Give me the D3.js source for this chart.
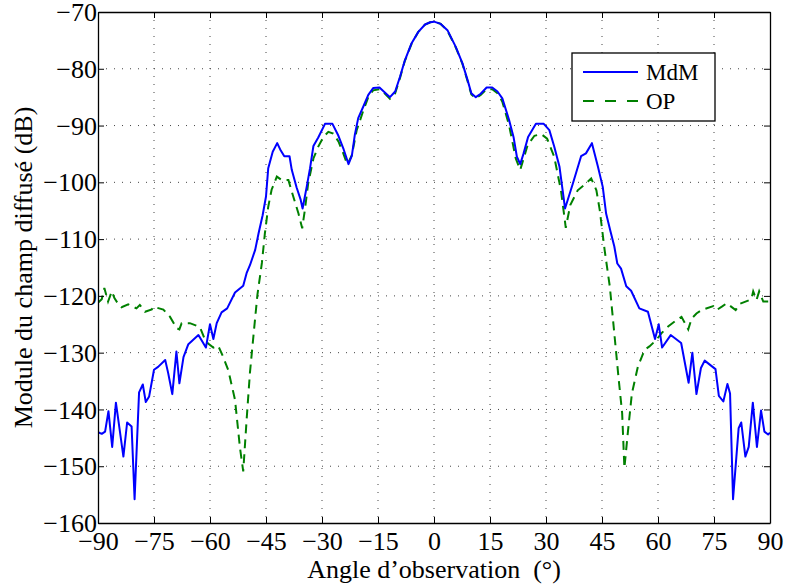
<!DOCTYPE html>
<html><head><meta charset="utf-8">
<script src="https://cdn.jsdelivr.net/npm/d3@7"></script>
<style>
body{margin:0;background:#fff;}
text{font-family:"Liberation Serif","Times New Roman",serif;fill:#000;}
</style></head>
<body><svg id="c" width="785" height="585"></svg>
<script>
const xTicks = [-90,-75,-60,-45,-30,-15,0,15,30,45,60,75,90];
const yTicks = [-70,-80,-90,-100,-110,-120,-130,-140,-150,-160];
const seriesNames = ["MdM","OP"];

const mdmAngle = [-90,-89,-88.1,-87.2,-86.2,-85.2,-83.2,-82.2,-81,-80.2,-79,-78,-77.2,-76.3,-75,-73.9,-72,-71.2,-70.1,-69,-68.2,-67.1,-65.8,-63.1,-61.1,-60,-59.1,-58.2,-56.9,-55.4,-53.3,-51.1,-50.2,-49.3,-47.9,-47,-45.9,-45,-44.4,-43.2,-42,-41.2,-40.1,-38.7,-38.1,-36.8,-35.7,-35.2,-34.1,-33.2,-32.3,-31,-29.2,-27.2,-25.6,-24.3,-22.9,-22,-21.2,-20.3,-18.9,-17.6,-16.3,-14.6,-13.6,-11.8,-10.4,-9.1,-7.8,-6,-4.2,-2.4,-1,0,1.8,3.6,5.8,7.6,9,10,11.2,12.5,14.1,15.6,17,18.3,20.1,21.3,22.2,23.1,24,25.2,27.3,29.4,30.9,32.2,33.6,35.1,37.2,39.4,40.7,42.3,43.9,45.2,46.1,47.3,48.3,49.1,50.1,51.5,52.8,55,57.3,59.2,60.2,61.1,63.4,66.2,68.2,69.2,70.3,71.5,72.5,75.4,76.3,77.5,78.6,79.3,80.1,81.6,82.3,83.4,84.3,85.4,86.5,87.6,88.5,89.5,90];
const mdmValue = [-144.0,-144.3,-143.9,-140.3,-146.6,-138.8,-148.3,-142.3,-143,-155.8,-137,-135.6,-138.7,-137.7,-133,-132.5,-131.3,-133.6,-137.3,-129.8,-135.4,-130.8,-128.5,-126.9,-129.1,-125,-127.6,-124.8,-122.9,-122.2,-119.4,-118.2,-116,-114.6,-111.9,-109,-105.8,-102.5,-97.5,-94.6,-93.1,-94.2,-95.4,-95.4,-97.8,-100.9,-103.1,-104.6,-100.8,-97.5,-93.6,-92.1,-89.7,-89.7,-91.8,-94,-96.8,-95.3,-91.6,-88.7,-86.6,-84.6,-83.4,-83.3,-83.9,-85,-84,-81.4,-78.5,-75.5,-73.5,-72.2,-71.8,-71.7,-72.1,-73.2,-76.1,-79,-82,-84.3,-85,-84.4,-83.3,-83.3,-84,-85.2,-89,-92,-95.5,-96.8,-94.9,-92,-89.7,-89.7,-90.8,-93.7,-97.2,-104.6,-100.2,-95.4,-94.9,-93.1,-97.2,-100.8,-105.5,-108.7,-111.3,-114.3,-115.2,-118.3,-119.1,-122.2,-122.8,-127.6,-125,-129.1,-126.9,-128.3,-135.3,-130,-137.3,-132.7,-131.4,-132.9,-137.6,-138.6,-135.5,-137.2,-155.8,-143.3,-142.3,-148.3,-146.6,-138.8,-146.6,-140.2,-143.9,-144.4,-144.1];

const opAngle = [-90,-89,-88.3,-87.3,-86.3,-85.6,-84.5,-83.7,-81.9,-79.7,-78.8,-77.4,-75.6,-75.2,-72.5,-70.7,-68.9,-68.2,-67.6,-65.4,-62.7,-61.3,-60.5,-59.1,-57.8,-56.5,-55.1,-53.3,-52,-51.1,-50.2,-49.3,-48.3,-47.3,-46.1,-45.3,-44.4,-43.5,-42.1,-40.8,-39,-37.7,-36.3,-35.3,-34.6,-33.7,-32.3,-31,-29.6,-28.3,-27,-25.6,-24.3,-23.2,-22,-20.7,-18.9,-17.6,-16.3,-14.6,-13.6,-11.8,-10.4,-9.1,-7.8,-6,-4.2,-2.4,-1,0,1.8,3.6,5.8,7.6,9,10,11.2,12.5,14.1,15.6,17,18.3,20.1,21.9,23.1,25.1,26.9,28.7,30.3,32.2,34,35.3,36.5,38.5,40.7,42.1,43.5,44.4,45.7,47.1,48.3,49.4,50.4,51,51.9,53,54.6,56.4,57.7,59.5,60.9,62.7,64.5,66.3,68.1,69,70.3,71.7,74.8,75.7,77.1,78.4,80.8,81.9,85,85.5,86.4,87.1,88.2,89.5,90];
const opValue = [-121.2,-120.6,-118.6,-121,-119.2,-120.4,-121.5,-122,-121.5,-122.2,-121.6,-122.8,-122.4,-121.9,-122.4,-123.7,-125.7,-125.9,-124.8,-124.8,-125.5,-127.8,-128.4,-129.1,-128.8,-130.7,-133.1,-138.3,-146.6,-150.9,-141.9,-133.5,-126.6,-119.8,-114.2,-109,-104.3,-101.3,-99,-99.6,-99.6,-102.5,-105.5,-108.1,-104.9,-100.2,-95.8,-93.7,-92,-91.1,-91.4,-92.8,-94.9,-96.9,-95.2,-90.8,-87.3,-85,-83.8,-83.6,-84.1,-85.3,-84.3,-81.6,-78.6,-75.6,-73.5,-72.2,-71.8,-71.7,-72.1,-73.3,-76.2,-79.1,-82.2,-84.5,-85.2,-84.6,-83.6,-83.6,-84.3,-85.8,-89.9,-95.8,-97.8,-93.4,-91.8,-91.5,-92.3,-95.5,-101.4,-108,-104,-101.4,-100.2,-99.3,-101.4,-104.9,-111.9,-118.4,-126.6,-134.2,-140.7,-150.3,-144.2,-137.2,-132.5,-129.5,-128.9,-127.8,-126.6,-125.4,-124.5,-123.7,-125.9,-124,-123.1,-122.5,-121.8,-122.5,-121.9,-121.3,-122.5,-121.4,-120.6,-119.2,-120.7,-119.2,-121,-121,-121];

const L = 98, R = 770, T = 12, B = 523;
const svg = d3.select("#c");
const x = d3.scaleLinear().domain([-90,90]).range([L,R]);
const y = d3.scaleLinear().domain([-160,-70]).range([B,T]);
const fmt = v => String(v).replace("-", "\u2212");

// grid
const g = svg.append("g");
g.selectAll(".gx").data(xTicks.slice(1,-1)).enter().append("line")
  .attr("x1", d=>x(d)).attr("x2", d=>x(d)).attr("y1", T).attr("y2", B)
  .attr("stroke", "#444").attr("stroke-width", 1).attr("stroke-dasharray", "1,7");
g.selectAll(".gy").data(yTicks.slice(1,-1)).enter().append("line")
  .attr("y1", d=>y(d)).attr("y2", d=>y(d)).attr("x1", L).attr("x2", R)
  .attr("stroke", "#444").attr("stroke-width", 1).attr("stroke-dasharray", "1,7");

// curves
const line = d3.line().x(d=>x(d[0])).y(d=>y(d[1]));
svg.append("clipPath").attr("id","cp").append("rect").attr("x",L).attr("y",T).attr("width",R-L).attr("height",B-T);
svg.append("path").datum(d3.zip(opAngle, opValue)).attr("d", line)
  .attr("fill","none").attr("stroke","#008000").attr("stroke-width",2)
  .attr("stroke-dasharray","9,6").attr("clip-path","url(#cp)");
svg.append("path").datum(d3.zip(mdmAngle, mdmValue)).attr("d", line)
  .attr("fill","none").attr("stroke","#0000ff").attr("stroke-width",2)
  .attr("stroke-linejoin","round").attr("clip-path","url(#cp)");

// axes (ticks inward) on all four sides
const tk = 6;
const axB = svg.append("g").attr("transform",`translate(0,${B})`)
  .call(d3.axisBottom(x).tickValues(xTicks).tickSizeInner(-tk).tickSizeOuter(0).tickFormat(fmt));
const axT = svg.append("g").attr("transform",`translate(0,${T})`)
  .call(d3.axisTop(x).tickValues(xTicks).tickSizeInner(-tk).tickSizeOuter(0).tickFormat(""));
const axL = svg.append("g").attr("transform",`translate(${L},0)`)
  .call(d3.axisLeft(y).tickValues(yTicks).tickSizeInner(-tk).tickSizeOuter(0).tickFormat(fmt));
const axR = svg.append("g").attr("transform",`translate(${R},0)`)
  .call(d3.axisRight(y).tickValues(yTicks).tickSizeInner(-tk).tickSizeOuter(0).tickFormat(""));
[axB,axT,axL,axR].forEach(a=>{
  a.select(".domain").attr("stroke","#000").attr("stroke-width",1.3);
  a.selectAll(".tick line").attr("stroke","#000").attr("stroke-width",1);
  a.selectAll("text").style("font-family",'"Liberation Serif",serif').style("font-size","26px").attr("fill","#000");
});
axB.selectAll("text").attr("dy","0").attr("y",27);
axL.selectAll("text").attr("dy","0.33em").attr("x",-1);

// labels
svg.append("text").attr("x",(L+R)/2).attr("y",578).attr("text-anchor","middle")
  .style("font-size","26px").style("white-space","pre").text("Angle d\u2019observation  (\u00b0)");
svg.append("text").attr("transform",`translate(32,${(T+B)/2}) rotate(-90)`).attr("text-anchor","middle")
  .style("font-size","26px").text("Module du champ diffus\u00e9 (dB)");

// legend
const lg = svg.append("g");
lg.append("rect").attr("x",572).attr("y",53).attr("width",143).attr("height",68)
  .attr("fill","#fff").attr("stroke","#000").attr("stroke-width",1.3);
const ly = [72,101];
lg.append("line").attr("x1",583).attr("x2",638).attr("y1",ly[0]).attr("y2",ly[0]).attr("stroke","#0000ff").attr("stroke-width",2);
lg.append("line").attr("x1",583).attr("x2",638).attr("y1",ly[1]).attr("y2",ly[1]).attr("stroke","#008000").attr("stroke-width",2).attr("stroke-dasharray","11,11");
seriesNames.forEach((n,i)=>{
  lg.append("text").attr("x",646).attr("y",ly[i]+8).style("font-size","23px").text(n);
});
</script></body></html>
